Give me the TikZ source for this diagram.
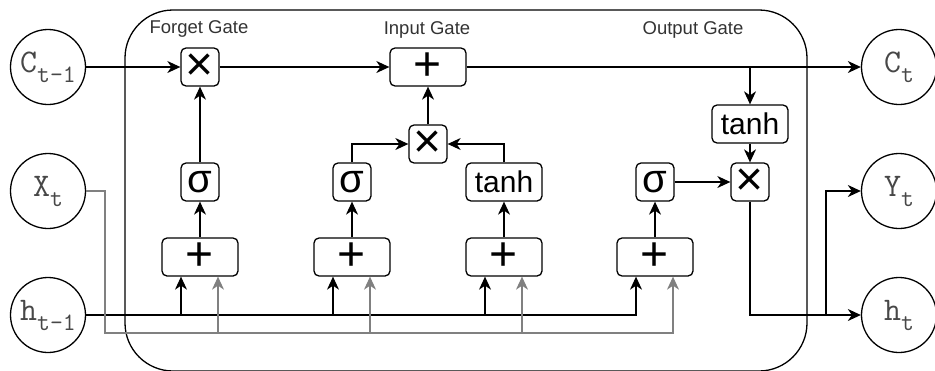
\documentclass[tikz,border=0pt]{standalone}
\usepackage{fontspec}
\setmainfont{Liberation Sans}
\usetikzlibrary{arrows.meta}
\newcommand{\cv}[2]{{\fontsize{33}{33}\selectfont #1}\raisebox{-10pt}{\fontsize{25}{25}\selectfont #2}}
\begin{document}
\begin{tikzpicture}[x=1pt,y=-1pt,
  op/.style={draw, line width=1.3pt, rounded corners=5pt, inner sep=0pt, minimum width=38pt, minimum height=38pt, font=\fontsize{48}{48}\selectfont},
  wideop/.style={op, minimum width=76pt},
  fn/.style={op, font=\fontsize{40}{40}\selectfont},
  tanhbox/.style={op, minimum width=76pt, font=\fontsize{30}{30}\selectfont},
  var/.style={draw, circle, line width=1.3pt, minimum size=75pt, inner sep=0pt, text=black!72, font=\ttfamily},
  gatelabel/.style={font=\fontsize{18.5}{19}\selectfont, text=black!80},
  conn/.style={line width=1.3pt, -{Stealth[length=13pt,width=12pt,inset=4pt]}},
  gconn/.style={conn, color=black!50},
  cellbox/.style={draw, line width=1.3pt, rounded corners=48pt, minimum width=682pt, minimum height=361pt, inner sep=0pt}
]
\useasboundingbox (0,0) rectangle (935,370);
\node[cellbox] (cell) at (466,190.5) {};

\node[gatelabel] (lf) at (199,29) {Forget Gate};
\node[gatelabel] (li) at (427,30) {Input Gate};
\node[gatelabel] (lo) at (693,30) {Output Gate};

\node[var] (cprev) at (48,67) {\cv{C}{t-1}};
\node[var] (xt) at (48,191) {\cv{X}{t}};
\node[var] (hprev) at (48,315) {\cv{h}{t-1}};
\node[var] (ct) at (899,67) {\cv{C}{t}};
\node[var] (yt) at (899,191) {\cv{Y}{t}};
\node[var] (ht) at (899,315) {\cv{h}{t}};

\node[op] (fmul) at (200,67) {×};
\node[fn] (fsig) at (200,182) {σ};
\node[wideop] (fplus) at (200,257) {+};

\node[wideop] (iplus) at (428,67) {+};
\node[op] (imul) at (428,144) {×};
\node[fn] (isig) at (352,182) {σ};
\node[tanhbox] (itanh) at (504,182) {tanh};
\node[wideop] (iplusa) at (352,257) {+};
\node[wideop] (iplusb) at (504,257) {+};

\node[fn] (osig) at (655,182) {σ};
\node[wideop] (oplus) at (655,257) {+};
\node[tanhbox] (otanh) at (750,124) {tanh};
\node[op] (omul) at (750,182) {×};

\coordinate (xbend) at (105,333);
\coordinate (cbr) at (750,67);
\coordinate (ybr) at (826,315);

\draw[conn] (cprev.east) -- (fmul.west);
\draw[conn] (fmul.east) -- (iplus.west);
\draw[conn] (iplus.east) -- (ct.west);
\draw[conn] (cbr) -- (otanh.north);

\draw[conn] (fplus) -- (fsig);
\draw[conn] (fsig) -- (fmul);
\draw[conn] (iplusa) -- (isig);
\draw[conn] (iplusb) -- (itanh);
\draw[conn] (isig.north) |- (imul.west);
\draw[conn] (itanh.north) |- (imul.east);
\draw[conn] (imul) -- (iplus);
\draw[conn] (oplus) -- (osig);
\draw[conn] (osig) -- (omul);
\draw[conn] (otanh) -- (omul);
\draw[conn] (omul.south) |- (ht.west);
\draw[conn] (ybr) |- (yt.west);

\foreach \n in {fplus,iplusa,iplusb,oplus}
  \draw[conn] (hprev.east) -| ([xshift=-19pt]\n.south);
\foreach \n in {fplus,iplusa,iplusb,oplus}
  \draw[gconn] (xt.east) -| (xbend) -| ([xshift=18pt]\n.south);
\end{tikzpicture}
\end{document}
